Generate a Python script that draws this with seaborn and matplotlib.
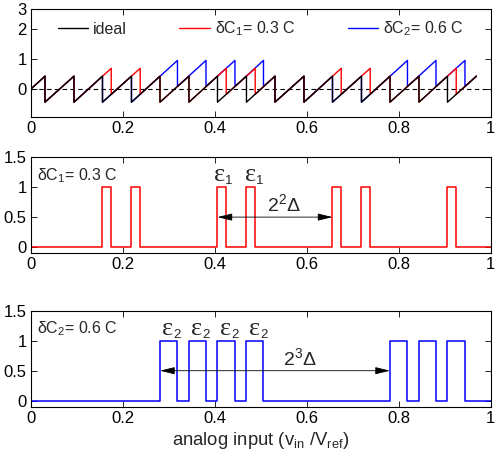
import matplotlib
matplotlib.use('Agg')
import matplotlib.pyplot as plt
import pandas as pd
import seaborn as sns

# ---------------- data ----------------
x_ticks = [0, 0.2, 0.4, 0.6, 0.8, 1.0]
x_tick_labels = ['0', '0.2', '0.4', '0.6', '0.8', '1']
top_y_ticks = [0, 1, 2, 2.64]
top_y_tick_labels = ['0', '1', '2', '3']
pulse_y_ticks = [0, 0.5, 1, 1.5]
pulse_y_tick_labels = ['0', '0.5', '1', '1.5']

# residue curves (sawtooth): start point, drop positions with top/bottom levels, end point
residue_start_x, residue_start_y = 0.0, 0.0
residue_end_x, residue_end_y = 0.969, 0.43

ideal_drop_x = [0.031, 0.094, 0.156, 0.219, 0.281, 0.344, 0.406, 0.469,
                0.531, 0.594, 0.656, 0.719, 0.781, 0.844, 0.906]
ideal_drop_top = [0.43, 0.43, 0.43, 0.43, 0.43, 0.43, 0.43, 0.43,
                  0.43, 0.43, 0.43, 0.43, 0.43, 0.43, 0.43]
ideal_drop_bottom = [-0.43, -0.43, -0.43, -0.43, -0.43, -0.43, -0.43, -0.43,
                     -0.43, -0.43, -0.43, -0.43, -0.43, -0.43, -0.43]

red_drop_x = [0.031, 0.094, 0.175, 0.238, 0.281, 0.344, 0.425, 0.488,
              0.531, 0.594, 0.675, 0.738, 0.781, 0.844, 0.925]
red_drop_top = [0.43, 0.43, 0.69, 0.69, 0.43, 0.43, 0.69, 0.69,
                0.43, 0.43, 0.69, 0.69, 0.43, 0.43, 0.69]
red_drop_bottom = [-0.43, -0.43, -0.17, -0.17, -0.43, -0.43, -0.17, -0.17,
                   -0.43, -0.43, -0.17, -0.17, -0.43, -0.43, -0.17]

blue_drop_x = [0.031, 0.094, 0.156, 0.219, 0.319, 0.381, 0.444, 0.506,
               0.531, 0.594, 0.656, 0.719, 0.819, 0.881, 0.944]
blue_drop_top = [0.43, 0.43, 0.43, 0.43, 0.95, 0.95, 0.95, 0.95,
                 0.43, 0.43, 0.43, 0.43, 0.95, 0.95, 0.95]
blue_drop_bottom = [-0.43, -0.43, -0.43, -0.43, 0.09, 0.09, 0.09, 0.09,
                    -0.43, -0.43, -0.43, -0.43, 0.09, 0.09, 0.09]

# error pulses
red_pulse_rise = [0.156, 0.219, 0.406, 0.469, 0.656, 0.719, 0.906]
red_pulse_fall = [0.175, 0.238, 0.425, 0.488, 0.675, 0.738, 0.925]
blue_pulse_rise = [0.281, 0.344, 0.406, 0.469, 0.781, 0.844, 0.906]
blue_pulse_fall = [0.319, 0.381, 0.444, 0.506, 0.819, 0.881, 0.944]
pulse_low, pulse_high = 0.0, 1.0
pulse_x_start, pulse_x_end = 0.0, 1.0

# annotations
red_eps_x = [0.415, 0.482]
blue_eps_x = [0.302, 0.366, 0.429, 0.491]
eps_y = 1.1
red_span = [0.406, 0.656]
blue_span = [0.281, 0.781]
span_y = 0.5
red_span_text_x, blue_span_text_x, span_text_y = 0.551, 0.585, 0.6
legend_labels = ['ideal', r'δ$\mathregular{C_1}$= 0.3 C', r'δ$\mathregular{C_2}$= 0.6 C']

# ---------------- styling ----------------
sns.set_theme(style='ticks')
plt.rcParams['font.family'] = ['Liberation Sans', 'DejaVu Sans']
plt.rcParams['mathtext.fontset'] = 'custom'
plt.rcParams['mathtext.rm'] = 'Liberation Sans'
plt.rcParams['mathtext.it'] = 'Liberation Sans:italic'
plt.rcParams['mathtext.default'] = 'regular'
plt.rcParams['axes.edgecolor'] = 'black'
plt.rcParams['axes.linewidth'] = 0.8
plt.rcParams['xtick.color'] = 'black'
plt.rcParams['ytick.color'] = 'black'
FS = 12
FS_TXT = 11.5


def residue_frame(drop_x, drop_top, drop_bottom):
    xs = [residue_start_x]
    ys = [residue_start_y]
    for x, t, b in zip(drop_x, drop_top, drop_bottom):
        xs += [x, x]
        ys += [t, b]
    xs.append(residue_end_x)
    ys.append(residue_end_y)
    return pd.DataFrame({'x': xs, 'y': ys})


def pulse_frame(rise, fall):
    xs = [pulse_x_start]
    ys = [pulse_low]
    for r, f in zip(rise, fall):
        xs += [r, r, f, f]
        ys += [pulse_low, pulse_high, pulse_high, pulse_low]
    xs.append(pulse_x_end)
    ys.append(pulse_low)
    return pd.DataFrame({'x': xs, 'y': ys})


def style_axes(ax):
    ax.set_xlim(0, 1)
    ax.set_xticks(x_ticks)
    ax.set_xticklabels(x_tick_labels, fontsize=FS)
    ax.tick_params(direction='in', length=4, width=0.6, top=True, right=True,
                   labelsize=FS, pad=3)
    for s in ax.spines.values():
        s.set_visible(True)
        s.set_color('black')
        s.set_linewidth(0.8)
    ax.set_xlabel('')
    ax.set_ylabel('')


def eps_label(ax, x, sub):
    ax.annotate('ε', xy=(x, eps_y), xytext=(2.3, 0), textcoords='offset points',
                fontsize=19, ha='right', va='baseline',
                family=['Liberation Serif', 'DejaVu Serif'])
    ax.annotate(sub, xy=(x, eps_y), xytext=(2.5, -2.2), textcoords='offset points',
                fontsize=9.5, ha='left', va='baseline')


def span_arrow(ax, span):
    ax.annotate('', xy=(span[0], span_y), xytext=(span[1], span_y),
                arrowprops=dict(arrowstyle='<|-|>,head_length=0.9,head_width=0.22',
                                color='black', lw=0.6, shrinkA=0, shrinkB=0,
                                mutation_scale=10))


fig = plt.figure(figsize=(4.98, 4.58), dpi=100)
L, W = 0.0617, 0.9237
ax1 = fig.add_axes([L, 0.7439, W, 0.2358])
ax2 = fig.add_axes([L, 0.4476, W, 0.2090])
ax3 = fig.add_axes([L, 0.1120, W, 0.2096])

# ---- top panel ----
ideal_df = residue_frame(ideal_drop_x, ideal_drop_top, ideal_drop_bottom)
red_df = residue_frame(red_drop_x, red_drop_top, red_drop_bottom)
blue_df = residue_frame(blue_drop_x, blue_drop_top, blue_drop_bottom)
ax1.axhline(0, color='black', lw=0.8, ls=(0, (4, 3)), zorder=1)
sns.lineplot(data=blue_df, x='x', y='y', sort=False, estimator=None, color='#0000ff',
             lw=1.0, ax=ax1, label=legend_labels[2])
sns.lineplot(data=red_df, x='x', y='y', sort=False, estimator=None, color='#ff0000',
             lw=1.0, ax=ax1, label=legend_labels[1])
sns.lineplot(data=ideal_df, x='x', y='y', sort=False, estimator=None, color='black',
             lw=1.0, ax=ax1, label=legend_labels[0])
style_axes(ax1)
ax1.set_ylim(-0.93, 2.64)
ax1.set_yticks(top_y_ticks)
ax1.set_yticklabels(top_y_tick_labels, fontsize=FS)
h, l = ax1.get_legend_handles_labels()
order = [l.index(t) for t in legend_labels]
ax1.legend([h[i] for i in order], [l[i] for i in order], ncol=3, frameon=False,
           loc='center', bbox_to_anchor=(0.5, 0.817), fontsize=FS_TXT,
           handlelength=1.9, handletextpad=0.3, columnspacing=3.3,
           borderaxespad=0, borderpad=0)

# ---- middle panel ----
sns.lineplot(data=pulse_frame(red_pulse_rise, red_pulse_fall), x='x', y='y', sort=False,
             estimator=None, color='#ff0000', lw=1.1, ax=ax2)
style_axes(ax2)
ax2.set_ylim(-0.1, 1.5)
ax2.set_yticks(pulse_y_ticks)
ax2.set_yticklabels(pulse_y_tick_labels, fontsize=FS)
ax2.text(0.014, 1.12, legend_labels[1], fontsize=FS_TXT, ha='left', va='baseline')
for ex in red_eps_x:
    eps_label(ax2, ex, '1')
span_arrow(ax2, red_span)
ax2.text(red_span_text_x, span_text_y, r'$\mathregular{2^2\Delta}$', fontsize=14,
         ha='center', va='baseline')

# ---- bottom panel ----
sns.lineplot(data=pulse_frame(blue_pulse_rise, blue_pulse_fall), x='x', y='y', sort=False,
             estimator=None, color='#0000ff', lw=1.1, ax=ax3)
style_axes(ax3)
ax3.set_ylim(-0.1, 1.5)
ax3.set_yticks(pulse_y_ticks)
ax3.set_yticklabels(pulse_y_tick_labels, fontsize=FS)
ax3.text(0.014, 1.13, legend_labels[2], fontsize=FS_TXT, ha='left', va='baseline')
for ex in blue_eps_x:
    eps_label(ax3, ex, '2')
span_arrow(ax3, blue_span)
ax3.text(blue_span_text_x, span_text_y, r'$\mathregular{2^3\Delta}$', fontsize=14,
         ha='center', va='baseline')
ax3.set_xlabel(r'analog input ($\mathregular{v_{in}}$ /$\mathregular{V_{ref}}$)',
               fontsize=13.3, labelpad=3)

fig.savefig('out.png', dpi=100)
